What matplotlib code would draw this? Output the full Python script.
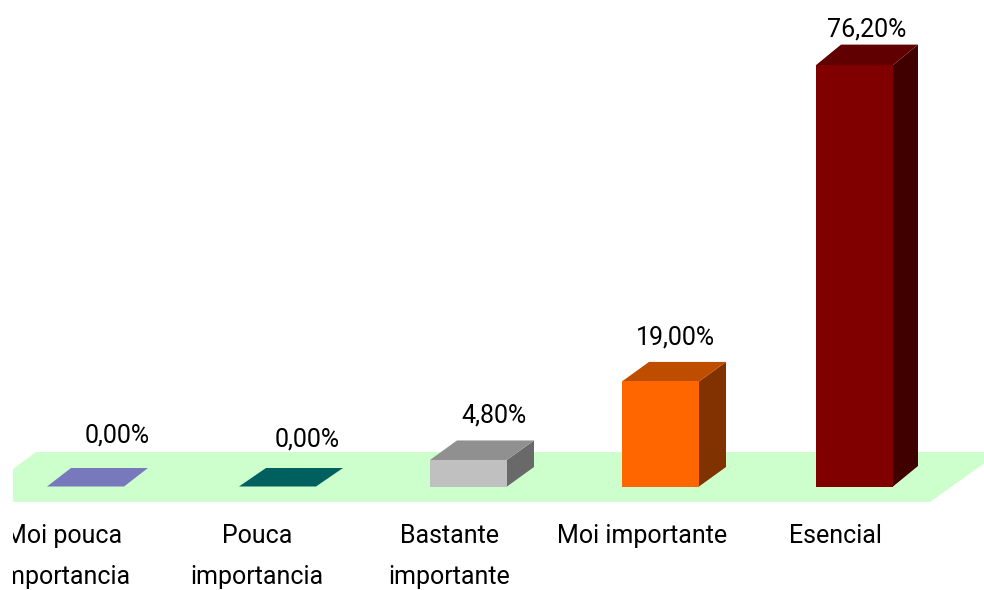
import matplotlib
matplotlib.use('Agg')
import matplotlib.pyplot as plt
from matplotlib.patches import Polygon, Rectangle
from matplotlib.transforms import Affine2D

categories = ['Moi pouca\nimportancia', 'Pouca\nimportancia', 'Bastante\nimportante', 'Moi importante', 'Esencial']
values = [0.0, 0.0, 4.8, 19.0, 76.2]
value_labels = ['0,00%', '0,00%', '4,80%', '19,00%', '76,20%']

front_colors = ['#7878BC', '#006060', '#C0C0C0', '#FF6600', '#800000']
top_colors = ['#7878BC', '#006060', '#909090', '#BF4D00', '#600000']
side_colors = ['#5A5A8D', '#004848', '#696969', '#803300', '#400000']

# layout, in pixels of the 984x590 picture
W, H = 984, 590
bar_x = [85.5, 277.5, 468.5, 660.5, 854.5]
value_x = [117, 307, 494.5, 675, 866.5]
value_y = [436, 439, 415, 338, 29]
cat_x = [64, 257, 449.5, 642.5, 835.5]
y0, y_scale = 486.5, 5.53     # value 0 baseline, px per percent
bar_w = 77
depth_x = [24, 27, 27, 27, 25]
depth_y = [18.5, 18.5, 19.5, 19.5, 20.5]

plt.rcParams['font.family'] = ['Roboto', 'DejaVu Sans']

fig = plt.figure(figsize=(W / 100, H / 100), dpi=100)
ax = fig.add_axes([0, 0, 1, 1])
ax.set_xlim(0, W)
ax.set_ylim((y0 - H) / y_scale, y0 / y_scale)
ax.axis('off')

px = Affine2D().scale(1, -1).translate(0, H)  # top-left origin pixels
clip = Rectangle((13, 0), W, H, transform=px)

# floor
floor = [(13, 469), (36, 452), (1000, 452), (930, 502), (13, 502)]
ax.add_patch(Polygon(floor, closed=True, fc='#CCFFCC', ec='none', transform=px, zorder=1))

ax.bar(bar_x, values, width=bar_w, color=front_colors, linewidth=0, zorder=3)

for i, v in enumerate(values):
    l, r = bar_x[i] - bar_w / 2, bar_x[i] + bar_w / 2
    dx, dy = depth_x[i], depth_y[i] / y_scale
    top = [(l, v), (r, v), (r + dx, v + dy), (l + dx, v + dy)]
    side = [(r, 0), (r + dx, dy), (r + dx, v + dy), (r, v)]
    if v > 0:
        ax.add_patch(Polygon(side, closed=True, fc=side_colors[i], ec='none', zorder=2))
    ax.add_patch(Polygon(top, closed=True, fc=top_colors[i], ec='none', zorder=2))

    ax.text(value_x[i], value_y[i], value_labels[i], transform=px, ha='center', va='center',
            fontsize=18, color='black', zorder=4)

    for j, line in enumerate(categories[i].split('\n')):
        t = ax.text(cat_x[i], 536 + 41 * j, line, transform=px, ha='center', va='center',
                    fontsize=18, color='black', zorder=4, clip_on=True)
        t.set_clip_path(clip)

fig.savefig('out.png', dpi=100)
